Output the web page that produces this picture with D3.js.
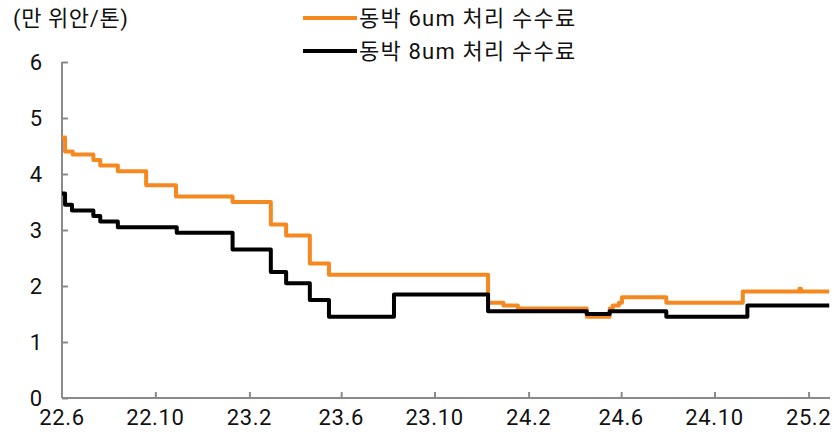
<!DOCTYPE html>
<html>
<head>
<meta charset="utf-8">
<script src="https://cdn.jsdelivr.net/npm/d3@7"></script>
<style>
  body { margin: 0; background: #fff; }
  svg { display: block; font-family: Roboto, 'Noto Sans CJK KR', sans-serif; }
</style>
</head>
<body>
<div id="chart"></div>
<script>
// step changes: date of change -> value from that date on
const foil6Dates = ['2022-06-01', '2022-06-05', '2022-06-15', '2022-07-12', '2022-07-21', '2022-08-13',
  '2022-09-19', '2022-10-28', '2023-01-10', '2023-03-01', '2023-03-21', '2023-04-21', '2023-05-16',
  '2023-12-10', '2023-12-30', '2024-01-18', '2024-04-17', '2024-05-17', '2024-05-21', '2024-05-29',
  '2024-06-02', '2024-07-30', '2024-11-07', '2025-01-20', '2025-01-22', '2025-02-28']
const foil6Values = [4.65, 4.4, 4.35, 4.25, 4.15, 4.05,
  3.8, 3.6, 3.5, 3.1, 2.9, 2.4, 2.2,
  1.7, 1.65, 1.6, 1.45, 1.6, 1.65, 1.7,
  1.8, 1.7, 1.9, 1.95, 1.9, 1.9]

const foil8Dates = ['2022-06-01', '2022-06-05', '2022-06-14', '2022-07-12', '2022-07-21', '2022-08-13',
  '2022-10-29', '2023-01-10', '2023-03-01', '2023-03-21', '2023-04-21', '2023-05-16', '2023-08-09',
  '2023-12-10', '2024-04-17', '2024-05-17', '2024-07-30', '2024-11-13', '2025-02-28']
const foil8Values = [3.65, 3.45, 3.35, 3.25, 3.15, 3.05,
  2.95, 2.65, 2.25, 2.05, 1.75, 1.45, 1.85,
  1.55, 1.5, 1.55, 1.45, 1.65, 1.65]

const seriesNames = ['동박 6um 처리 수수료', '동박 8um 처리 수수료']
const seriesColors = ['#f5891f', '#000000']
const xTickDates = ['2022-06-01', '2022-10-01', '2023-02-01', '2023-06-01', '2023-10-01',
  '2024-02-01', '2024-06-01', '2024-10-01', '2025-02-01']
const yTicks = [0, 1, 2, 3, 4, 5, 6]
const unitLabel = '(만 위안/톤)'

const width = 834
const height = 437
const parse = d3.timeParse('%Y-%m-%d')

const svg = d3.select('#chart').append('svg')
  .attr('width', width).attr('height', height)

const xScale = d3.scaleTime()
  .domain([parse('2022-06-01'), parse('2025-03-01')])
  .range([62, 830])
const yScale = d3.scaleLinear().domain([0, 6]).range([398, 62])

const axisColor = '#8a8a8a'
const labelSize = 22

// y axis
const yAxis = svg.append('g')
  .attr('transform', `translate(${xScale.range()[0]},0)`)
  .call(d3.axisRight(yScale).tickValues(yTicks).tickSize(6).tickFormat(''))
yAxis.select('.domain').attr('d', `M0,${yScale(6)}V${yScale(0)}`)
yAxis.selectAll('.domain, line').attr('stroke', axisColor).attr('stroke-width', 2)

svg.append('g').selectAll('text')
  .data(yTicks)
  .join('text')
  .attr('x', 42)
  .attr('y', d => yScale(d))
  .attr('text-anchor', 'end')
  .attr('dy', '0.36em')
  .attr('font-size', labelSize)
  .attr('fill', '#111')
  .text(d => d)

// x axis
const xAxis = svg.append('g')
  .attr('transform', `translate(0,${yScale(0)})`)
  .call(d3.axisTop(xScale).tickValues(xTickDates.map(parse)).tickSize(6).tickFormat(''))
xAxis.select('.domain').attr('d', `M${xScale.range()[0]},0H${xScale.range()[1]}`)
xAxis.selectAll('.domain, line').attr('stroke', axisColor).attr('stroke-width', 2)
xAxis.selectAll('.tick').filter((d, i) => i === 0).select('line').remove()

const fmtTick = d => `${d3.timeFormat('%y')(d)}.${d.getMonth() + 1}`
svg.append('g').selectAll('text')
  .data(xTickDates.map(parse))
  .join('text')
  .attr('x', d => xScale(d))
  .attr('y', 425)
  .attr('text-anchor', 'middle')
  .attr('font-size', labelSize)
  .attr('letter-spacing', 0.6)
  .attr('fill', '#111')
  .text(fmtTick)

// unit label
svg.append('text')
  .attr('x', 13)
  .attr('y', 26)
  .attr('font-size', 22)
  .attr('letter-spacing', 0.6)
  .attr('fill', '#111')
  .text(unitLabel)

// lines
const series = [
  foil6Dates.map((d, i) => ({ date: parse(d), value: foil6Values[i] })),
  foil8Dates.map((d, i) => ({ date: parse(d), value: foil8Values[i] })),
]
const line = d3.line()
  .x(d => xScale(d.date))
  .y(d => yScale(d.value))
  .curve(d3.curveStepAfter)

svg.append('g').selectAll('path')
  .data(series)
  .join('path')
  .attr('fill', 'none')
  .attr('stroke', (d, i) => seriesColors[i])
  .attr('stroke-width', 4)
  .attr('stroke-linejoin', 'round')
  .attr('d', line)

// legend
const legend = svg.append('g').selectAll('g')
  .data(seriesNames)
  .join('g')
  .attr('transform', (d, i) => `translate(303,${18 + i * 33})`)
legend.append('line')
  .attr('x1', 0).attr('x2', 54)
  .attr('stroke', (d, i) => seriesColors[i])
  .attr('stroke-width', 4)
legend.append('text')
  .attr('x', 56)
  .attr('dy', '0.36em')
  .attr('font-size', 22)
  .attr('letter-spacing', 1.2)
  .attr('fill', '#111')
  .text(d => d)
</script>
</body>
</html>
